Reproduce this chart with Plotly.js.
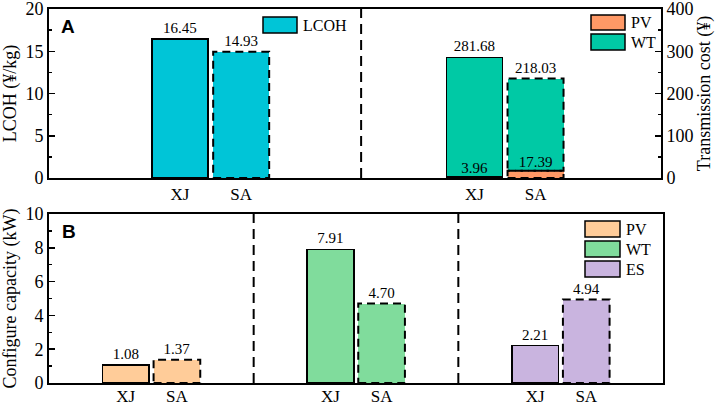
<!DOCTYPE html>
<html>
<head>
<meta charset="utf-8">
<script src="https://cdn.plot.ly/plotly-3.0.1.min.js"></script>
<style>html,body{margin:0;padding:0;background:#fff;}#chart{width:726px;height:405px;}</style>
</head>
<body>
<div id="chart"></div>
<script>
// ---- Data ----
const categories = ['XJ', 'SA'];
const lcoh = [16.45, 14.93];            // ¥/kg
const transPV = [3.96, 17.39];          // ¥
const transWT = [281.68, 218.03];       // ¥
const capPV = [1.08, 1.37];             // kW
const capWT = [7.91, 4.70];             // kW
const capES = [2.21, 4.94];             // kW

// ---- Colours ----
const C = {
  lcoh: '#00C5D7', tPV: '#FF9966', tWT: '#00C9A5',
  bPV: '#FFCC99', bWT: '#80DC9C', bES: '#C9B4DF'
};
const SERIF = 'Liberation Serif, Times New Roman, serif';

// ---- Layout helpers ----
const W = 726, H = 405, L = 49, R = 63, T = 9, B = 22;
const plotW = W - L - R, plotH = H - T - B;
const topGroups = [0.528, 1.49], topOff = [-0.1, 0.1], topW = 0.183;
const botGroups = [0.5, 1.5, 2.5], botOff = [-0.125, 0.125], botW = 0.228;
const xTopL = topOff.map(o => topGroups[0] + o);
const xTopR = topOff.map(o => topGroups[1] + o);
const xB = botGroups.map(g => botOff.map(o => g + o));

const lineSolid = {color: '#000', width: [1.5, 0]};
const txtFont = {family: SERIF, size: 15, color: '#000'};
const fmt = a => a.map(v => v.toFixed(2));

const traces = [
  {type: 'bar', x: xTopL, y: lcoh, width: topW, xaxis: 'x', yaxis: 'y',
   marker: {color: C.lcoh, line: lineSolid}, text: fmt(lcoh), textposition: 'outside',
   textfont: txtFont, constraintext: 'none', cliponaxis: false, hoverinfo: 'skip'},
  {type: 'bar', x: xTopR, y: transPV, width: topW, xaxis: 'x', yaxis: 'y2',
   marker: {color: C.tPV, line: lineSolid}, hoverinfo: 'skip'},
  {type: 'bar', x: xTopR, y: transWT, width: topW, xaxis: 'x', yaxis: 'y2',
   marker: {color: C.tWT, line: lineSolid}, text: fmt(transWT), textposition: 'outside',
   textfont: txtFont, constraintext: 'none', cliponaxis: false, hoverinfo: 'skip'},
  {type: 'scatter', mode: 'text', x: xTopR, y: transPV, text: fmt(transPV),
   textposition: 'top center', textfont: txtFont, xaxis: 'x', yaxis: 'y2',
   cliponaxis: false, hoverinfo: 'skip'},
];
[[capPV, C.bPV], [capWT, C.bWT], [capES, C.bES]].forEach(([vals, col], i) => {
  traces.push({type: 'bar', x: xB[i], y: vals, width: botW, xaxis: 'x2', yaxis: 'y3',
    marker: {color: col, line: lineSolid}, text: fmt(vals), textposition: 'outside',
    textfont: txtFont, constraintext: 'none', cliponaxis: false, hoverinfo: 'skip'});
});

// ---- Shapes: dashed outlines for SA bars, dividers, legends ----
const dash = '8px,5px';
const shapes = [];
function dashedRect(xc, w, y0, y1, xref, yref) {
  shapes.push({type: 'rect', xref, yref, x0: xc - w / 2, x1: xc + w / 2, y0, y1,
    line: {color: '#000', width: 2, dash}, fillcolor: 'rgba(0,0,0,0)', layer: 'above'});
}
dashedRect(xTopL[1], topW, 0, lcoh[1], 'x', 'y');
dashedRect(xTopR[1], topW, 0, transPV[1], 'x', 'y2');
dashedRect(xTopR[1], topW, transPV[1], transPV[1] + transWT[1], 'x', 'y2');
dashedRect(xB[0][1], botW, 0, capPV[1], 'x2', 'y3');
dashedRect(xB[1][1], botW, 0, capWT[1], 'x2', 'y3');
dashedRect(xB[2][1], botW, 0, capES[1], 'x2', 'y3');

// dividers
shapes.push({type: 'line', xref: 'x', yref: 'y domain', x0: 1.02, x1: 1.02, y0: 0, y1: 1,
  line: {color: '#000', width: 2, dash: '10px,6px'}});
[1, 2].forEach(v => shapes.push({type: 'line', xref: 'x2', yref: 'y3 domain', x0: v, x1: v, y0: 0, y1: 1,
  line: {color: '#000', width: 2, dash: '10px,6px'}}));

// legend helpers (pixel -> domain fractions)
const topX0 = L, topX1 = L + 612, topY0 = 9, topY1 = 178;
const botX0 = L, botX1 = L + 614, botY0 = 214, botY1 = 383;
const tx = p => (p - topX0) / (topX1 - topX0), ty = p => (topY1 - p) / (topY1 - topY0);
const bx = p => (p - botX0) / (botX1 - botX0), by = p => (botY1 - p) / (botY1 - botY0);
const annotations = [];
function legendItem(fx, fy, xref, yref, px0, px1, py0, py1, col, label) {
  shapes.push({type: 'rect', xref, yref, x0: fx(px0), x1: fx(px1), y0: fy(py1), y1: fy(py0),
    fillcolor: col, line: {color: '#000', width: 1.5}});
  annotations.push({xref, yref, x: fx(px1 + 4), y: fy((py0 + py1) / 2), text: label,
    showarrow: false, xanchor: 'left', yanchor: 'middle', font: {family: SERIF, size: 16, color: '#000'}});
}
legendItem(tx, ty, 'x domain', 'y domain', 263, 297, 17, 33, C.lcoh, 'LCOH');
legendItem(tx, ty, 'x domain', 'y domain', 591, 625, 15, 30, C.tPV, 'PV');
legendItem(tx, ty, 'x domain', 'y domain', 591, 625, 34, 50, C.tWT, 'WT');
legendItem(bx, by, 'x2 domain', 'y3 domain', 585, 620, 221, 237, C.bPV, 'PV');
legendItem(bx, by, 'x2 domain', 'y3 domain', 585, 620, 241, 257, C.bWT, 'WT');
legendItem(bx, by, 'x2 domain', 'y3 domain', 585, 620, 261, 277, C.bES, 'ES');

annotations.push({xref: 'x domain', yref: 'y domain', x: tx(68), y: ty(27), text: '<b>A</b>',
  showarrow: false, xanchor: 'center', yanchor: 'middle', font: {family: 'Liberation Sans, Arial, sans-serif', size: 19, color: '#000'}});
annotations.push({xref: 'x2 domain', yref: 'y3 domain', x: bx(68.5), y: by(231), text: '<b>B</b>',
  showarrow: false, xanchor: 'center', yanchor: 'middle', font: {family: 'Liberation Sans, Arial, sans-serif', size: 19, color: '#000'}});

const tickFont = {family: SERIF, size: 18, color: '#000'};
const xTickFont = {family: SERIF, size: 17, color: '#000'};
const titleFont = {family: SERIF, size: 18, color: '#000'};
const axLine = {showline: true, linecolor: '#000', linewidth: 2, showgrid: false, zeroline: false};

const layout = {
  width: W, height: H, margin: {l: L, r: R, t: T, b: B},
  paper_bgcolor: '#fff', plot_bgcolor: '#fff', showlegend: false, barmode: 'stack',
  xaxis: Object.assign({}, axLine, {domain: [0, 612 / 614], range: [0, 2], anchor: 'y', mirror: true,
    tickvals: xTopL.concat(xTopR), ticktext: categories.concat(categories), ticks: '', tickfont: xTickFont}),
  yaxis: Object.assign({}, axLine, {domain: [(383 - 178) / plotH, 1], range: [0, 20], dtick: 5, anchor: 'x',
    ticks: 'inside', ticklen: 6, tickwidth: 1.5, tickcolor: '#000', tickfont: tickFont, ticklabeloverflow: 'allow',
    minor: {ticks: 'inside', ticklen: 3, dtick: 2.5, tickwidth: 1.5, tickcolor: '#000', showgrid: false},
    title: {text: 'LCOH (¥/kg)', font: titleFont, standoff: 4}}),
  yaxis2: Object.assign({}, axLine, {overlaying: 'y', side: 'right', anchor: 'x', range: [0, 400], dtick: 100,
    ticks: 'inside', ticklen: 6, tickwidth: 1.5, tickcolor: '#000', tickfont: tickFont, ticklabeloverflow: 'allow',
    minor: {ticks: 'inside', ticklen: 3, dtick: 50, tickwidth: 1.5, tickcolor: '#000', showgrid: false},
    title: {text: 'Transmission cost (¥)', font: titleFont, standoff: 4}}),
  xaxis2: Object.assign({}, axLine, {domain: [0, 1], range: [0, 3], anchor: 'y3', mirror: true,
    tickvals: xB.flat(), ticktext: [].concat(categories, categories, categories), ticks: '', tickfont: xTickFont,
    ticklabeloverflow: 'allow', ticklabelstandoff: -3}),
  yaxis3: Object.assign({}, axLine, {domain: [0, (383 - 214) / plotH], range: [0, 10], dtick: 2, anchor: 'x2', mirror: true,
    ticks: 'inside', ticklen: 6, tickwidth: 1.5, tickcolor: '#000', tickfont: tickFont, ticklabeloverflow: 'allow',
    minor: {ticks: 'inside', ticklen: 3, dtick: 1, tickwidth: 1.5, tickcolor: '#000', showgrid: false},
    title: {text: 'Configure capacity (kW)', font: titleFont, standoff: 4}}),
  shapes, annotations
};

Plotly.newPlot('chart', traces, layout, {staticPlot: true, displayModeBar: false});
</script>
</body>
</html>
